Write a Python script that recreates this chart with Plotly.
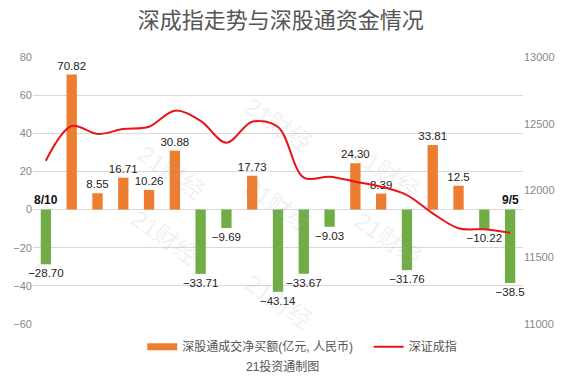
import plotly.graph_objects as go

dates = ["8/10", "8/11", "8/12", "8/15", "8/16", "8/17", "8/18", "8/19", "8/22", "8/23",
         "8/24", "8/25", "8/26", "8/29", "8/30", "8/31", "9/1", "9/2", "9/5"]
net_buy = [-28.70, 70.82, 8.55, 16.71, 10.26, 30.88, -33.71, -9.69, 17.73, -43.14,
           -33.67, -9.03, 24.30, 8.39, -31.76, 33.81, 12.5, -10.22, -38.5]
net_buy_labels = ["−28.70", "70.82", "8.55", "16.71", "10.26", "30.88", "−33.71", "−9.69",
                  "17.73", "−43.14", "−33.67", "−9.03", "24.30", "8.39", "−31.76", "33.81",
                  "12.5", "−10.22", "−38.5"]
szci = [12223, 12483, 12423, 12461, 12478, 12598, 12521, 12358, 12515, 12476,
        12096, 12103, 12066, 12029, 11966, 11829, 11717, 11709, 11684]
left_ticks = [-60, -40, -20, 0, 20, 40, 60, 80]
right_ticks = [11000, 11500, 12000, 12500, 13000]

ORANGE = "#ED7D31"
GREEN = "#70AD47"
RED = "#E8141B"
FONT = "Liberation Sans, Noto Sans CJK SC, sans-serif"

bar_colors = [ORANGE if v >= 0 else GREEN for v in net_buy]

fig = go.Figure()
fig.add_trace(go.Bar(
    x=dates, y=net_buy, marker=dict(color=bar_colors, line=dict(width=0)),
    width=0.4, text=net_buy_labels, textposition="outside", constraintext="none",
    textfont=dict(size=11.5, color="#222", family=FONT), cliponaxis=False,
    showlegend=False, hoverinfo="x+y"))
# legend-only proxy for the bar series (wide flat swatch)
fig.add_trace(go.Scatter(
    x=[None], y=[None], mode="lines", line=dict(color=ORANGE, width=7),
    name="深股通成交净买额(亿元, 人民币)", legend="legend"))
fig.add_trace(go.Scatter(
    x=dates, y=szci, mode="lines", yaxis="y2",
    line=dict(color=RED, width=2, shape="spline", smoothing=1),
    name="深证成指", legend="legend2"))

for d in (dates[0], dates[-1]):
    fig.add_annotation(x=d, y=0, text="<b>%s</b>" % d, showarrow=False,
                       yanchor="bottom", yshift=1,
                       font=dict(size=12, color="#111", family=FONT))

# watermarks
wm = [(0.50, 0.88), (0.198, 0.70), (0.806, 0.70), (0.50, 0.445), (0.185, 0.19),
      (0.81, 0.185), (0.50, -0.05)]
for wx, wy in wm:
    fig.add_annotation(xref="paper", yref="paper", x=wx, y=wy, text="21财经",
                       showarrow=False, textangle=35,
                       font=dict(size=24, color="rgba(170,170,170,0.18)", family=FONT))

fig.add_annotation(xref="paper", yref="paper", x=0.51, y=-0.158, text="21投资通制图",
                   showarrow=False, yanchor="middle",
                   font=dict(size=12, color="#555", family=FONT))

fig.update_layout(
    width=567, height=378,
    margin=dict(l=33, r=44, t=57, b=54),
    paper_bgcolor="white", plot_bgcolor="white",
    font=dict(family=FONT, color="#666"),
    title=dict(text="深成指走势与深股通资金情况", x=0.495, xanchor="center", y=0.945,
               yanchor="middle", font=dict(size=22, color="#555", family=FONT)),
    xaxis=dict(type="category", showticklabels=False, showgrid=False, zeroline=False,
               range=[-0.5, len(dates) - 0.5], ticks=""),
    yaxis=dict(range=[-60, 80], tickvals=left_ticks, showgrid=True, gridcolor="#d9d9d9",
               gridwidth=1, zeroline=True, zerolinecolor="#d9d9d9", zerolinewidth=1,
               tickfont=dict(size=11, color="#888"), ticks="", showline=False),
    yaxis2=dict(range=[11000, 13000], tickvals=right_ticks, tickformat=".0f",
                overlaying="y", side="right",
                showgrid=False, zeroline=False, tickfont=dict(size=11, color="#888"),
                ticks="", showline=False),
    legend=dict(orientation="h", x=0.223, y=-0.085, xanchor="left", yanchor="middle",
                font=dict(size=12, color="#555"), itemwidth=30, bgcolor="rgba(0,0,0,0)"),
    legend2=dict(orientation="h", x=0.685, y=-0.085, xanchor="left", yanchor="middle",
                 font=dict(size=12, color="#555"), itemwidth=30, bgcolor="rgba(0,0,0,0)"),
    bargap=0.6,
)

fig.write_html("out.html", config={"displayModeBar": False},
               post_script="document.body.style.margin='0';document.body.style.overflow='hidden';")
